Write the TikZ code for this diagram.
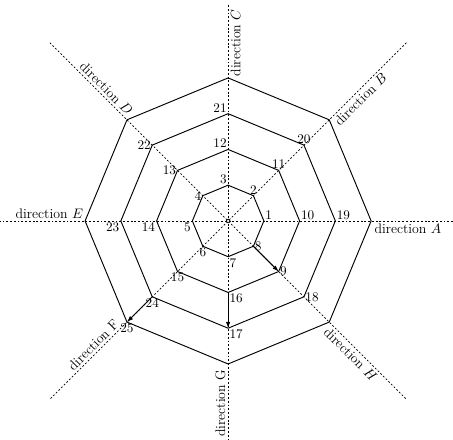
\documentclass[tikz,border=0pt]{standalone}
\usepackage{tikz}
\usetikzlibrary{arrows.meta}

\begin{document}
\begin{tikzpicture}[>={Latex[length=5pt,width=3.5pt]},
	ring/.style={line width=0.75pt},
	axis/.style={line width=0.5pt, dash pattern=on 1.5pt off 1.5pt},
	num/.style={inner sep=1pt, font=\fontsize{10.5}{12}\selectfont},
	dirlabel/.style={inner sep=2pt, font=\fontsize{11}{13}\selectfont}]
	\useasboundingbox (-6.38,-6.10) rectangle (6.29,6.18);

	% ends of the direction lines
	\coordinate (eA) at (6.29,0);
	\coordinate (eE) at (-6.38,0);
	\coordinate (eC) at (0,6.04);
	\coordinate (eG) at (0,-6.10);
	\coordinate (eB) at (45:7.05);
	\coordinate (eF) at (225:7.05);
	\coordinate (eD) at (135:7.05);
	\coordinate (eH) at (315:7.05);

	\draw[axis] (eA) -- (eE);
	\draw[axis] (eC) -- (eG);
	\draw[axis] (eB) -- (eF);
	\draw[axis] (eD) -- (eH);
	\node[circle, draw, fill=white, inner sep=0pt, minimum size=1.1mm, line width=0.5pt] (o) at (0,0) {};

	% octagons
	\foreach \r in {1,...,4}
		\draw[ring] (0:\r) \foreach \a in {45,90,...,315} {-- (\a:\r)} -- cycle;

	% numbered corners
	\foreach \n in {1,...,25} {
		\pgfmathtruncatemacro{\rr}{int((\n-1)/8)+1}
		\pgfmathtruncatemacro{\aa}{mod((\n-\rr)*45,360)}
		\pgfmathtruncatemacro{\la}{\aa+45}
		\coordinate[label={[num]\la:\n}] (p\n) at (\aa:\rr);
	}

	\draw[ring,->] (p8) -- (p9);
	\draw[ring,->] (p16) -- (p17);
	\draw[ring,->] (p24) -- (p25);

	% direction labels
	\node[dirlabel, anchor=north] (dirA) at (0:5.03) {direction $A$};
	\node[dirlabel, anchor=north, rotate=45] (dirB) at (45:5.03) {direction $B$};
	\node[dirlabel, anchor=north, rotate=90] (dirC) at (90:4.98) {direction $C$};
	\node[dirlabel, anchor=south, rotate=-45] (dirD) at (135:5.03) {direction $D$};
	\node[dirlabel, anchor=south] (dirE) at (180:5.0) {direction $E$};
	\node[dirlabel, anchor=south, rotate=45] (dirF) at (225:5.12) {direction F};
	\node[dirlabel, anchor=south, rotate=90] (dirG) at (270:5.1) {direction G};
	\node[dirlabel, anchor=north, rotate=-45] (dirH) at (315:5.06) {direction $H$};
\end{tikzpicture}
\end{document}
